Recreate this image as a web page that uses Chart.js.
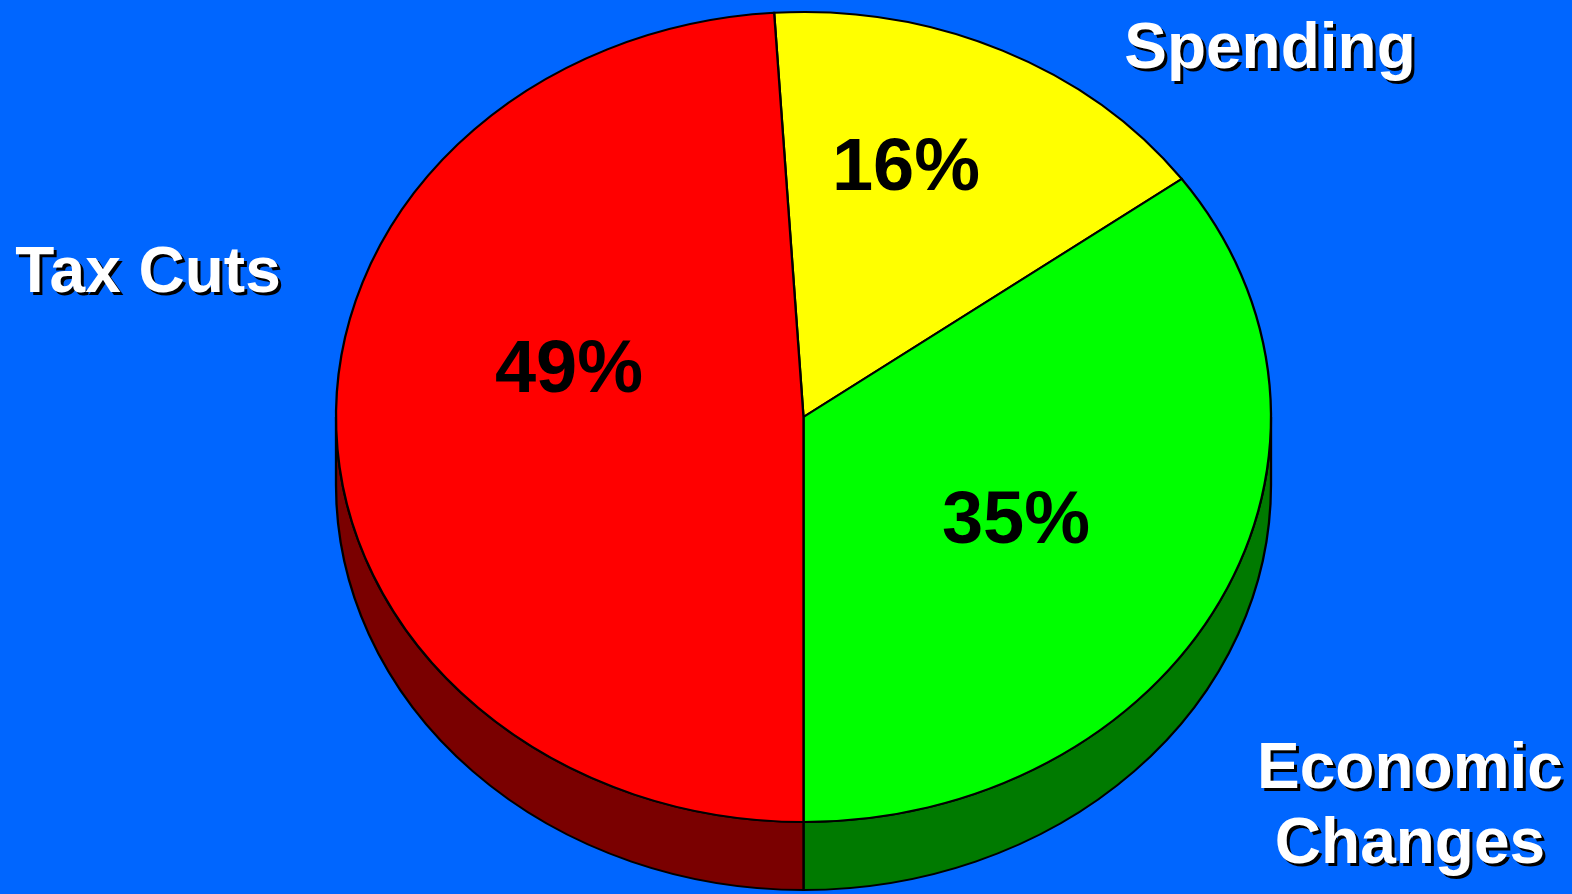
<!DOCTYPE html>
<html>
<head>
<meta charset="utf-8">
<script src="https://cdn.jsdelivr.net/npm/chart.js@4/dist/chart.umd.min.js"></script>
<style>
  html, body { margin: 0; padding: 0; background: #0066FF; overflow: hidden; }
  #wrap { position: relative; width: 1572px; height: 894px; }
  canvas { position: absolute; left: 0; top: 0; }
  .lbl { position: absolute; font-family: "Liberation Sans", Arial, sans-serif; font-weight: bold;
         white-space: nowrap; line-height: 1; transform: translateX(-50%); }
  .cat { font-size: 64px; color: #fff; text-shadow: 3px 3px 0 #000; }
  .pct { font-size: 74px; color: #000; }
</style>
</head>
<body>
<div id="wrap">
  <canvas id="c" width="1572" height="894"></canvas>
</div>
<script>
// ---- data ----
const categories = ["Spending", "Economic Changes", "Tax Cuts"];
const shares = [16, 35, 49];
const topColors = ["#FFFF00", "#00FF00", "#FF0000"];
const sideColors = ["#808000", "#007A00", "#7A0000"];

// ---- layout (positions only) ----
const CX = 803.5, CY = 417, RY = 405, RX = 467.5, DEPTH = 68;
const catPos = [
  { x: 1270, y: 13.8, lines: ["Spending"] },
  { x: 1410, y: 733.8, lines: ["Economic", "Changes"], lh: 75 },
  { x: 148, y: 237.8, lines: ["Tax Cuts"] }
];
const pctPos = [ { x: 906, y: 128.4 }, { x: 1016, y: 481.4 }, { x: 569, y: 330.4 } ];

const ellipse = {
  id: 'ellipse3d',
  beforeDatasetsDraw(chart) {
    const ctx = chart.ctx;
    const meta = chart.getDatasetMeta(0);
    const sx = RX / RY;
    ctx.save();
    ctx.translate(CX, CY);
    ctx.scale(sx, 1);
    ctx.translate(-CX, -CY);
    // side walls (front half only: canvas angles 0..PI)
    meta.data.forEach((arc, i) => {
      const { x, y, startAngle, endAngle, outerRadius } = arc;
      const TAU = Math.PI * 2;
      // normalise to [0, TAU)
      let s = ((startAngle % TAU) + TAU) % TAU;
      let e = s + (endAngle - startAngle);
      const ranges = [[s, e], [s - TAU, e - TAU], [s + TAU, e + TAU]];
      ranges.forEach(([a, b]) => {
        const a1 = Math.max(a, 0), a2 = Math.min(b, Math.PI);
        if (a2 <= a1) return;
        ctx.beginPath();
        ctx.arc(x, y, outerRadius, a1, a2, false);
        ctx.lineTo(x + Math.cos(a2) * outerRadius, y + DEPTH + Math.sin(a2) * outerRadius);
        ctx.arc(x, y + DEPTH, outerRadius, a2, a1, true);
        ctx.closePath();
        ctx.fillStyle = sideColors[i];
        ctx.fill();
        ctx.lineWidth = 2;
        ctx.strokeStyle = '#000';
        ctx.lineJoin = 'miter';
        ctx.stroke();
      });
    });
  },
  afterDatasetsDraw(chart) {
    chart.ctx.restore();
  }
};

new Chart(document.getElementById('c'), {
  type: 'pie',
  data: {
    labels: categories,
    datasets: [{
      data: shares,
      backgroundColor: topColors,
      borderColor: '#000',
      borderWidth: 2,
      borderJoinStyle: 'miter'
    }]
  },
  options: {
    responsive: false,
    animation: false,
    rotation: shares[2] / 100 * 360 - 180,
    layout: { padding: { left: CX - RY - 1, right: 1572 - (CX + RY) - 1, top: CY - RY - 1, bottom: 894 - (CY + RY) - 1 } },
    plugins: { legend: { display: false }, tooltip: { enabled: false } }
  },
  plugins: [ellipse]
});

// ---- text labels ----
const wrap = document.getElementById('wrap');
categories.forEach((c, i) => {
  const p = catPos[i];
  p.lines.forEach((ln, k) => {
    const d = document.createElement('div');
    d.className = 'lbl cat';
    d.textContent = ln;
    d.style.left = p.x + 'px';
    d.style.top = (p.y + k * (p.lh || 0)) + 'px';
    wrap.appendChild(d);
  });
  const q = document.createElement('div');
  q.className = 'lbl pct';
  q.textContent = shares[i] + '%';
  q.style.left = pctPos[i].x + 'px';
  q.style.top = pctPos[i].y + 'px';
  wrap.appendChild(q);
});
</script>
</body>
</html>
